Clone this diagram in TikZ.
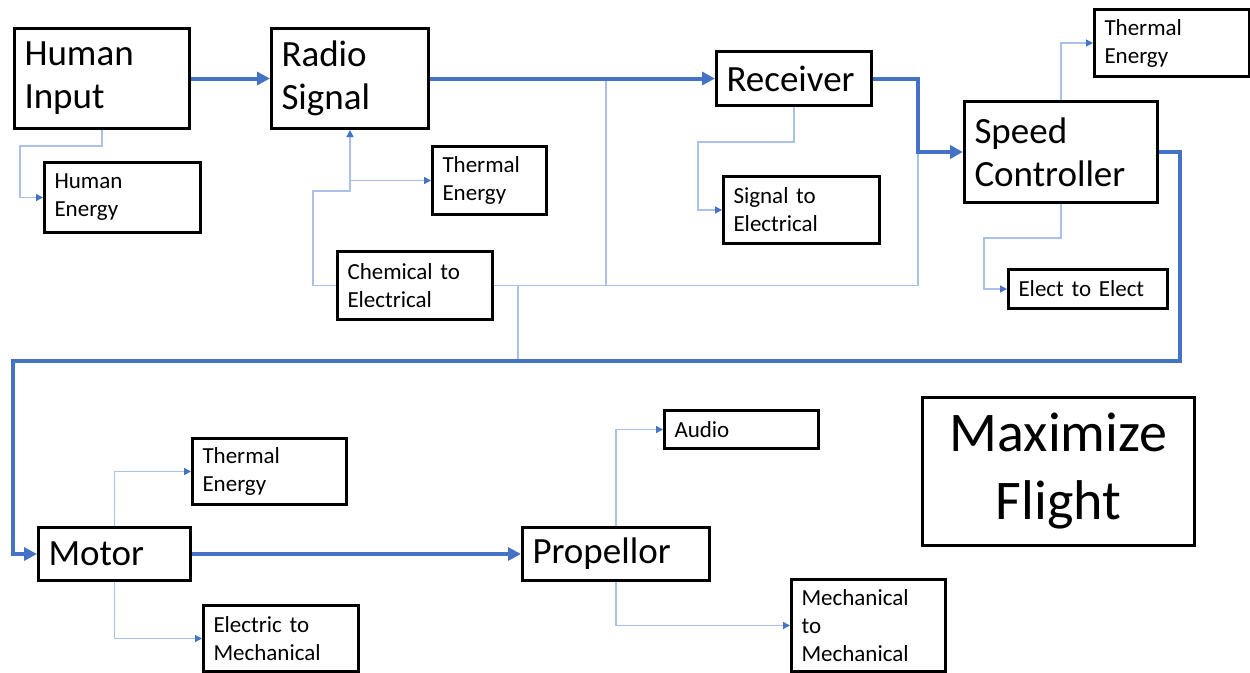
\documentclass[tikz,border=0pt]{standalone}
\usepackage{fontspec}
\setmainfont{Carlito}
\usetikzlibrary{arrows.meta}
\definecolor{flowB}{HTML}{4472C4}
\definecolor{feedB}{HTML}{A9C0E8}

\begin{document}
\begin{tikzpicture}[x=1pt,y=-1pt,
  blk/.style={draw,line width=3pt,anchor=north west,inner xsep=10pt,inner ysep=0pt,align=left},
  big/.style={blk,font=\fontsize{37}{43}\selectfont},
  sml/.style={blk,font=\fontsize{23}{28}\selectfont},
  main/.style={flowB,line width=4pt,-{Triangle[length=13pt,width=13pt]}},
  aux/.style={feedB,line width=1.3pt,-{Triangle[length=7pt,width=7pt,color=flowB]}},
  tap/.style={feedB,line width=1.3pt}]
  \useasboundingbox (0,0) rectangle (1250,672);

  % main chain
  \node[big,text width=155pt,minimum height=100pt] (hin) at (13,27) {Human\\Input};
  \node[big,text width=137pt,minimum height=100pt] (rad) at (270,27) {Radio\\Signal};
  \node[big,text width=135pt,minimum height=54pt] (rcv) at (715,50) {Receiver};
  \node[big,text width=173pt,minimum height=101pt] (spd) at (963,100) {Speed\\Controller};
  \node[big,text width=132pt,minimum height=53pt] (mot) at (37,526) {Motor};
  \node[big,text width=167pt,minimum height=53pt] (prp) at (521,526) {Propellor};
  \node[blk,align=center,text width=252pt,minimum height=148pt,font=\fontsize{56}{68}\selectfont] (goal) at (921,396) {Maximize\\Flight};

  % energy boxes
  \node[sml,text width=136pt,minimum height=70pt] (hen) at (43,161) {Human\\Energy};
  \node[sml,text width=94pt,minimum height=68pt] (the2) at (431,145) {Thermal\\Energy};
  \node[sml,text width=135pt,minimum height=68pt] (che) at (336,250) {Chemical to\\Electrical};
  \node[sml,text width=136pt,minimum height=67pt] (sig) at (722,175) {Signal to\\Electrical};
  \node[sml,text width=135pt,minimum height=67pt] (the3) at (1093,8) {Thermal\\Energy};
  \node[sml,text width=139pt,minimum height=39pt] (ele) at (1007,268) {Elect to Elect};
  \node[sml,text width=134pt,minimum height=66pt] (the1) at (191,437) {Thermal\\Energy};
  \node[sml,text width=135pt,minimum height=66pt] (emc) at (202,604) {Electric to\\Mechanical};
  \node[sml,text width=134pt,minimum height=38pt] (aud) at (663,409) {Audio};
  \node[sml,text width=134pt,minimum height=92pt] (mmc) at (790,578) {Mechanical\\to\\Mechanical};

  \coordinate (knee) at ([xshift=45pt]rcv.east);
  \coordinate (bus) at (1180,361);
  \coordinate (split) at ([yshift=-61pt]rad.south);

  % power taps from the battery
  \draw[aux] (che.west) -- ++(-23,0) |- (split) -- (rad.south);
  \draw[aux] (the2.west -| rad.south) -- (the2.west);
  \draw[tap] (che.east) -| (knee);
  \draw[tap] ([xshift=112pt]che.east) coordinate (t1) -- (t1 |- rad.east);
  \draw[tap] ([xshift=24pt]che.east) coordinate (t2) -- (t2 |- bus);

  % losses and conversions
  \draw[aux] (hin.south) -- ++(0,16) -| ([xshift=-23pt]hen.west) -- (hen.west);
  \draw[aux] (rcv.south) -- ++(0,35) -| ([xshift=-24pt]sig.west) -- (sig.west);
  \draw[aux] (spd.north) |- (the3.west);
  \draw[aux] (spd.south) -- ++(0,34) -| ([xshift=-23pt]ele.west) -- (ele.west);
  \draw[aux] (mot.north) |- (the1.west);
  \draw[aux] (mot.south) |- (emc.west);
  \draw[aux] (prp.north) |- (aud.west);
  \draw[aux] (prp.south) |- (mmc.west);

  % signal / power flow
  \draw[main] (hin.east) -- (rad.west);
  \draw[main] (rad.east) -- (rcv.west);
  \draw[main] (rcv.east) -- (knee) |- (spd.west);
  \draw[main] (spd.east) -| (bus) -| ([xshift=-24pt]mot.west) -- (mot.west);
  \draw[main] (mot.east) -- (prp.west);
\end{tikzpicture}
\end{document}
